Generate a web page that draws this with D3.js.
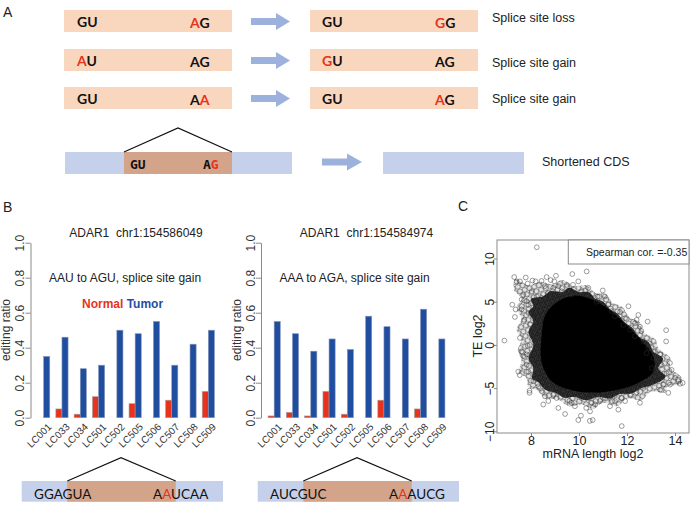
<!DOCTYPE html>
<html><head><meta charset="utf-8">
<script src="https://cdn.jsdelivr.net/npm/d3@7"></script>
<style>body{margin:0;background:#fff}svg{display:block}text{font-family:"Liberation Sans",Arial,sans-serif;white-space:pre}</style>
</head><body><svg id="fig" width="700" height="515"></svg>
<script>
// ---------- data ----------
const motifsBefore = [["GU","AG"],["AU","AG"],["GU","AA"]];
const redBefore    = [[-1,0],[0,-1],[-1,1]];
const motifsAfter  = [["GU","GG"],["GU","AG"],["GU","AG"]];
const redAfter     = [[-1,0],[0,-1],[-1,0]];
const outcomes = ["Splice site loss","Splice site gain","Splice site gain"];
const cdsMotifs = ["GU","AG"];
const cdsOutcome = "Shortened CDS";

const samples = ["LC001","LC033","LC034","LC501","LC502","LC505","LC506","LC507","LC508","LC509"];
const normal1 = [0.00,0.05,0.02,0.12,0.00,0.08,0.00,0.10,0.00,0.15];
const tumor1  = [0.35,0.46,0.28,0.30,0.50,0.48,0.55,0.30,0.42,0.50];
const normal2 = [0.01,0.03,0.01,0.15,0.02,0.00,0.10,0.00,0.05,0.00];
const tumor2  = [0.55,0.48,0.38,0.45,0.39,0.58,0.52,0.45,0.62,0.45];
const barTicks = [0,0.2,0.4,0.6,0.8,1.0];
const titles = ["ADAR1  chr1:154586049","ADAR1  chr1:154584974"];
const subtitles = ["AAU to AGU, splice site gain","AAA to AGA, splice site gain"];
const seqLeft = ["GGAGUA","AUCGUC"];
const seqRight = ["AAUCAA","AAAUCG"];

const scatterXTicks = [8,10,12,14];
const scatterYTicks = [-10,-5,0,5,10];
const spearman = "Spearman cor. =-0.35";
// density contours of the point cloud (outer fringe, mid, solid core), in data units
const cloudOuter = [[7.35,7.6],[7.9,6.9],[8.4,7.3],[8.9,7.0],[9.3,7.5],[9.8,6.8],[10.3,6.9],[10.7,6.0],[11.1,5.9],[11.4,4.9],[11.8,4.4],[12.1,3.2],[12.5,2.7],[12.7,1.5],[13.2,0.6],[13.3,-0.4],[13.8,-1.5],[13.8,-2.6],[14.3,-3.9],[14.2,-4.6],[13.7,-4.8],[13.6,-5.5],[13.0,-5.4],[12.6,-6.4],[12.0,-6.2],[11.6,-7.1],[11.0,-6.7],[10.6,-7.4],[10.1,-6.9],[9.6,-7.1],[9.1,-6.3],[8.6,-6.2],[8.3,-5.3],[7.9,-4.9],[7.8,-3.8],[7.5,-3.2],[7.6,-1.8],[7.45,-0.6],[7.6,0.6],[7.4,1.8],[7.6,3.0],[7.4,4.3],[7.6,5.4],[7.3,6.3]];
const cloudMid = [[8.0,5.3],[8.5,5.6],[8.8,6.2],[9.3,6.1],[9.6,6.6],[10.0,6.1],[10.4,6.1],[10.7,5.3],[11.0,5.0],[11.3,4.1],[11.6,3.6],[11.9,2.6],[12.2,2.0],[12.5,0.9],[12.9,0.3],[13.1,-0.8],[13.5,-1.6],[13.3,-2.7],[13.6,-3.7],[13.0,-4.7],[12.6,-5.0],[12.2,-5.6],[11.7,-5.7],[11.3,-6.2],[10.8,-6.0],[10.3,-6.4],[9.8,-6.0],[9.4,-6.1],[9.0,-5.5],[8.6,-5.2],[8.3,-4.3],[8.05,-3.9],[8.1,-2.7],[7.9,-1.5],[8.1,0.0],[7.9,1.5],[8.1,2.7],[7.9,3.8],[8.1,4.5]];
const cloudCore = [[8.6,3.5],[9.1,5.0],[9.76,5.7],[10.5,5.3],[11.2,4.2],[11.9,2.5],[12.6,0.5],[13.1,-1.4],[13.1,-3.1],[12.6,-4.2],[11.9,-5.0],[10.9,-5.5],[9.8,-5.3],[8.9,-4.3],[8.45,-2.1],[8.45,1.3]];
const scatterPoints = [
[8.24,11.3],[9.72,8.2],[10.32,8.5],[7.30,7.85],[7.40,7.35],[7.54,7.35],[7.78,7.8],[7.86,7.1],[8.06,7.45],[8.19,7.35],[8.44,7.4],[8.65,7.85],[8.82,7.5],[9.04,8.0],[8.97,7.35],[9.49,6.95],[9.75,6.95],[8.58,6.8],[9.14,6.8],
[7.68,5.8],[7.61,5.25],[7.82,5.05],[7.22,4.65],[7.33,3.23],[7.36,4.1],[7.61,4.1],[7.89,3.7],[7.72,2.9],[7.54,0.8],[6.89,0.5],[7.61,-0.75],[7.68,-1.3],[7.86,-0.1],[7.47,-3.1],[7.53,-3.5],[7.82,-2.3],[7.89,-3.1],[8.17,-3.8],[7.94,-5.3],[7.94,-5.55],[8.58,-5.95],[8.51,-6.9],[8.72,-6.5],[8.93,-5.8],[9.42,-8.0],[9.97,-8.7],[10.08,-8.2],[9.83,-7.1],[10.45,-8.8],[9.14,-7.3],[9.6,-6.5],[10.3,-7.3],
[10.99,6.3],[11.08,5.6],[10.77,5.6],[12.06,4.47],[11.36,3.9],[11.71,3.8],[11.92,3.1],[12.4,2.9],[12.33,2.5],[12.54,2.1],[12.6,1.6],[12.96,0.1],[12.9,-0.36],[13.63,0.4],[13.17,-0.75],[13.38,-1.1],[13.3,-1.8],[13.44,-2.3],[13.79,-2.1],[13.86,-2.9],[13.65,-3.3],[14.0,-3.8],[14.14,-4.2],[14.32,-4.4],[14.21,-4.5],[13.79,-4.6],[13.51,-4.6],[13.72,-5.55],[13.38,-5.2],[12.54,-6.7],[11.92,-6.5],[11.29,-7.1],[11.64,-7.5],[11.78,-9.4],[11.29,-6.15],[10.88,-6.5],[10.46,-7.7],[10.57,-8.7],[12.47,3.46],[12.86,2.7],[13.63,1.7],
[8.03,6.2],[8.24,5.6],[7.89,4.65],[8.1,5.05],[8.31,4.27],[7.96,2.35],[8.17,1.95],[8.03,1.2],[8.24,0.4],[7.82,-1.1],[8.03,-1.9],[8.24,-2.7],[8.1,-4.2],[8.31,-4.8],[8.44,-5.35],[8.79,-5.2],[9.07,-6.15],[9.35,-5.8],[9.69,-6.7],[10.11,-6.15],[10.53,-6.7],
[9.28,6.2],[9.69,5.8],[10.11,6.2],[8.72,6.0],[8.93,6.6],[8.44,5.45],[9.97,7.35],[10.39,6.6],
[10.74,5.0],[11.22,4.65],[11.5,3.3],[11.85,2.3],[12.13,1.75],[12.33,1.0],[12.68,0.4],[12.82,-0.95],[13.1,-1.5],[13.03,-2.7],[13.24,-3.4],[12.96,-4.2],[12.68,-5.0],[12.4,-5.5],[12.13,-5.8],[11.78,-6.15],[11.5,-6.5],[11.0,-6.15],[10.67,-6.9]
];

// ---------- style ----------
const salmon="#f9d6be", blueLight="#c5d0ea", salmonDark="#d4a48a", arrowCol="#9cb2dc";
const redC="#e8321c", blueC="#1f4ea0", axisCol="#8a8a8a", txtCol="#333";
const svg = d3.select("#fig");
const defs = svg.append("defs");

// ring textures for the dense parts of the cloud
function ringPattern(id, w, h, r, col, sw){
  const p = defs.append("pattern").attr("id",id).attr("patternUnits","userSpaceOnUse")
    .attr("width",w).attr("height",h).attr("patternTransform","rotate(23)");
  const base = [[0,0],[w/2,h/2]];
  base.forEach(([cx,cy])=>{
    for(let dx=-1;dx<=1;dx++) for(let dy=-1;dy<=1;dy++)
      p.append("circle").attr("cx",cx+dx*w).attr("cy",cy+dy*h).attr("r",r)
        .attr("fill","none").attr("stroke",col).attr("stroke-width",sw);
  });
}
ringPattern("ringsSparse",7.5,6.5,2.4,"#444",0.55);
ringPattern("ringsDense",4.2,3.6,2.4,"#111",0.6);

function letter(x,y,t){ return svg.append("text").attr("x",x).attr("y",y).style("font-size","14px").attr("fill","#222").text(t); }
letter(3,17,"A"); letter(3,212,"B"); letter(458,211,"C");

function motif(x,y,str,redIdx,size,weight,font){
  const t = svg.append("text").attr("x",x).attr("y",y)
    .style("font-size",size+"px").style("font-weight",weight).style("font-family",font);
  str.split("").forEach((ch,i)=> t.append("tspan").attr("fill", i===redIdx?redC:"#111").text(ch));
}
function arrow(x0,x1,yc,headStart){
  const p = d3.path();
  p.moveTo(x0,yc-3.4); p.lineTo(headStart,yc-3.4); p.lineTo(headStart,yc-8.5); p.lineTo(x1,yc);
  p.lineTo(headStart,yc+8.5); p.lineTo(headStart,yc+3.4); p.lineTo(x0,yc+3.4); p.closePath();
  svg.append("path").attr("d",p.toString()).attr("fill",arrowCol);
}

// ---------- panel A ----------
const rowTop = [10,49,87], labelY=[22,67,103];
const seqFont='"Lato","Liberation Sans",sans-serif';
motifsBefore.forEach((m,i)=>{
  const y=rowTop[i];
  svg.append("rect").attr("x",64).attr("y",y).attr("width",168).attr("height",22).attr("fill",salmon);
  svg.append("rect").attr("x",310).attr("y",y).attr("width",168).attr("height",22).attr("fill",salmon);
  motif(77,y+16.5,m[0],redBefore[i][0],14,"bold",seqFont);
  motif(190,y+17.5,m[1],redBefore[i][1],14,"bold",seqFont);
  motif(322,y+16.5,motifsAfter[i][0],redAfter[i][0],14,"bold",seqFont);
  motif(435,y+17.5,motifsAfter[i][1],redAfter[i][1],14,"bold",seqFont);
  arrow(251,290,y+11.5,276);
  svg.append("text").attr("x",492).attr("y",labelY[i]).style("font-size","12.5px").attr("fill","#222").text(outcomes[i]);
});
// CDS row
svg.append("rect").attr("x",65).attr("y",152).attr("width",227).attr("height",22).attr("fill",blueLight);
svg.append("rect").attr("x",124).attr("y",152).attr("width",108).attr("height",22).attr("fill",salmonDark);
svg.append("path").attr("d",d3.line()([[124,152],[178,128],[232,152]])).attr("fill","none").attr("stroke","#111").attr("stroke-width",1.2);
motif(130,169,cdsMotifs[0],-1,13,"bold",'"DejaVu Sans Mono",monospace');
motif(203,169,cdsMotifs[1],1,13,"bold",'"DejaVu Sans Mono",monospace');
arrow(322,362,162,347);
svg.append("rect").attr("x",383).attr("y",152).attr("width",141).attr("height",22).attr("fill",blueLight);
svg.append("text").attr("x",542).attr("y",166).style("font-size","12.5px").attr("fill","#222").text(cdsOutcome);

// ---------- panel B ----------
const yBar = d3.scaleLinear().domain([0,1]).range([417.7,242.7]);
function barChart(off, normal, tumor, k){
  const x = d3.scaleLinear().domain([-0.16,31.16]).range([30.5+off,221.5+off]);
  const g = svg.append("g");
  const ax = g.append("g").attr("transform",`translate(${30.5+off},0)`)
    .call(d3.axisLeft(yBar).tickValues(barTicks).tickFormat(d3.format(".1f")).tickSize(5).tickSizeOuter(0));
  ax.select(".domain").attr("stroke",axisCol);
  ax.selectAll(".tick line").attr("stroke",axisCol);
  ax.selectAll(".tick text").attr("x",0).attr("dy",0).attr("text-anchor","middle")
    .attr("transform","translate(-6.5,0) rotate(-90)").style("font-size","12px").style("font-family",'"Liberation Sans",Arial,sans-serif').attr("fill",txtCol);
  g.append("text").attr("transform",`translate(${10+off},330) rotate(-90)`).attr("text-anchor","middle")
    .style("font-size","12px").attr("fill",txtCol).text("editing ratio");
  g.selectAll(".rb").data(normal).join("rect")
    .attr("x",(d,i)=>x(3*i+1)).attr("width",x(1)-x(0)).attr("y",d=>yBar(d)).attr("height",d=>yBar(0)-yBar(d))
    .attr("fill",redC).attr("stroke","#a0a0a0").attr("stroke-width",0.6);
  g.selectAll(".bb").data(tumor).join("rect")
    .attr("x",(d,i)=>x(3*i+2)).attr("width",x(1)-x(0)).attr("y",d=>yBar(d)).attr("height",d=>yBar(0)-yBar(d))
    .attr("fill",blueC).attr("stroke","#8a96b8").attr("stroke-width",0.6);
  g.selectAll(".xl").data(samples).join("text")
    .attr("transform",(d,i)=>`translate(${x(3*i+2)+6},425) rotate(-45)`)
    .attr("text-anchor","end").attr("dy","0.35em").style("font-size","10px").attr("fill",txtCol).text(d=>d);
  g.append("text").attr("x",136+off).attr("y",237).attr("text-anchor","middle").style("font-size","12px").attr("fill","#222").text(titles[k]);
  g.append("text").attr("x",49+off).attr("y",282).style("font-size","12px").attr("fill","#222").text(subtitles[k]);
  // splice diagram
  const ox = off===0?0:236;
  svg.append("rect").attr("x",21.7+ox).attr("y",481).attr("width",201.3).attr("height",20.7).attr("fill",blueLight);
  svg.append("rect").attr("x",67.3+ox).attr("y",481).attr("width",108.4).attr("height",20.7).attr("fill",salmonDark);
  svg.append("path").attr("d",d3.line()([[67.3+ox,481],[121+ox,457.7],[175.7+ox,481]])).attr("fill","none").attr("stroke","#111").attr("stroke-width",1.2);
  motif(34+ox,499,seqLeft[k],-1,13.5,"normal",seqFont);
  motif(153+ox,499,seqRight[k],1,13.5,"normal",seqFont);
}
barChart(0,normal1,tumor1,0);
barChart(230.5,normal2,tumor2,1);
// legend of first chart
const lg = svg.append("text").attr("x",82).attr("y",308).style("font-size","12px").style("font-weight","bold");
lg.append("tspan").attr("fill",redC).text("Normal");
lg.append("tspan").attr("fill",blueC).text(" Tumor");

// ---------- panel C ----------
const sx = d3.scaleLinear().domain([6.583,14.583]).range([497,689]);
const sy = d3.scaleLinear().domain([-10.2,12.14]).range([433,240]);
const cg = svg.append("g");
const area = d3.line().x(d=>sx(d[0])).y(d=>sy(d[1])).curve(d3.curveCatmullRomClosed);
cg.append("path").attr("d",area(cloudOuter)).attr("fill","#000").attr("fill-opacity",0.1);
cg.append("path").attr("d",area(cloudOuter)).attr("fill","url(#ringsSparse)");
cg.append("path").attr("d",area(cloudMid)).attr("fill","#000").attr("fill-opacity",0.45);
cg.append("path").attr("d",area(cloudMid)).attr("fill","url(#ringsDense)");
cg.append("path").attr("d",area(cloudCore)).attr("fill","#000");
cg.selectAll("circle.pt").data(scatterPoints).join("circle").attr("class","pt")
  .attr("cx",d=>sx(d[0])).attr("cy",d=>sy(d[1])).attr("r",2.4)
  .attr("fill","none").attr("stroke","#333").attr("stroke-width",0.6).attr("stroke-opacity",0.8);
cg.append("rect").attr("x",497).attr("y",240).attr("width",192).attr("height",193).attr("fill","none").attr("stroke",axisCol);
const xa = cg.append("g").attr("transform","translate(0,433)").call(d3.axisBottom(sx).tickValues(scatterXTicks).tickSize(3).tickSizeOuter(0));
xa.select(".domain").remove();
xa.selectAll(".tick line").attr("stroke",axisCol);
xa.selectAll(".tick text").attr("y",12).attr("dy","0").style("font-size","12.5px").style("font-family",'"Liberation Sans",Arial,sans-serif').attr("fill","#222");
const ya = cg.append("g").attr("transform","translate(497,0)").call(d3.axisLeft(sy).tickValues(scatterYTicks).tickSize(3).tickSizeOuter(0));
ya.select(".domain").remove();
ya.selectAll(".tick line").attr("stroke",axisCol);
ya.selectAll(".tick text").attr("x",0).attr("dy",0).attr("text-anchor","middle")
  .attr("transform","translate(-3,0) rotate(-90)").style("font-size","12px").style("font-family",'"Liberation Sans",Arial,sans-serif').attr("fill","#222");
cg.append("text").attr("x",593).attr("y",458).attr("text-anchor","middle").style("font-size","12.5px").attr("fill","#222").text("mRNA length log2");
cg.append("text").attr("transform","translate(482,336) rotate(-90)").attr("text-anchor","middle").style("font-size","12.5px").attr("fill","#222").text("TE log2");
cg.append("rect").attr("x",568.3).attr("y",240).attr("width",120.7).attr("height",24).attr("fill","#fff").attr("stroke",axisCol);
cg.append("text").attr("x",586).attr("y",256).style("font-size","10.5px").attr("fill","#222").text(spearman);
</script></body></html>
